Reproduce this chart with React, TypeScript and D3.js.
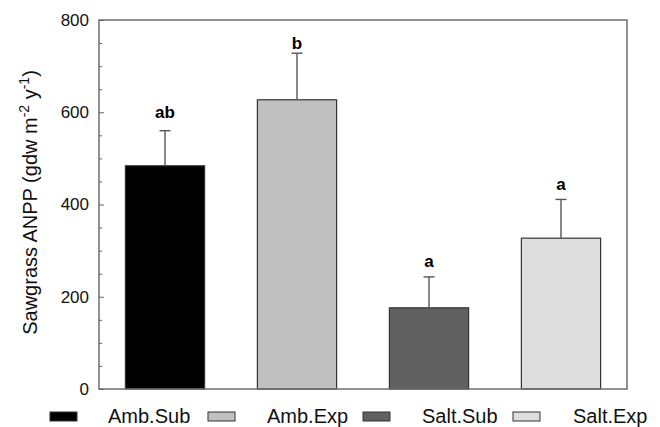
import * as d3 from "d3";
import { useEffect, useRef } from "react";

const treatments = ["Amb.Sub", "Amb.Exp", "Salt.Sub", "Salt.Exp"];
const anpp = [484, 627, 176, 327];
const errUpper = [560, 728, 243, 411];
const letters = ["ab", "b", "a", "a"];
const letterAt = [588, 737, 265, 431];
const fills = ["#000000", "#c0c0c0", "#606060", "#dedede"];
const yTicks = [0, 200, 400, 600, 800];

const App = () => {
  const chartRef = useRef<SVGSVGElement | null>(null);

  useEffect(() => {
    drawChart();
  }, []);

  const drawChart = () => {
    if (!chartRef.current) return;
    d3.select(chartRef.current).selectAll("*").remove();

    const frame = { left: 99, right: 627, top: 20, bottom: 389 };
    const svg = d3.select(chartRef.current);
    const font = "'Liberation Sans', Arial, sans-serif";

    const xScale = d3
      .scaleBand()
      .domain(treatments)
      .range([frame.left, frame.right])
      .paddingInner(0.4)
      .paddingOuter(0.2);

    const yScale = d3.scaleLinear().domain([0, 800]).range([frame.bottom, frame.top]);

    // bars
    svg
      .append("g")
      .selectAll()
      .data(treatments)
      .join("rect")
      .attr("x", (d) => xScale(d)!)
      .attr("y", (d, i) => yScale(anpp[i]))
      .attr("width", xScale.bandwidth())
      .attr("height", (d, i) => yScale(0) - yScale(anpp[i]))
      .attr("fill", (d, i) => fills[i])
      .attr("stroke", "#333")
      .attr("stroke-width", 1.2);

    // error bars (upper only)
    const eb = svg.append("g").attr("stroke", "#555").attr("stroke-width", 1.4);
    treatments.forEach((t, i) => {
      const cx = xScale(t)! + xScale.bandwidth() / 2;
      eb.append("line").attr("x1", cx).attr("x2", cx).attr("y1", yScale(anpp[i])).attr("y2", yScale(errUpper[i]));
      eb.append("line")
        .attr("x1", cx - 5.5)
        .attr("x2", cx + 5.5)
        .attr("y1", yScale(errUpper[i]))
        .attr("y2", yScale(errUpper[i]));
    });

    // significance letters
    svg
      .append("g")
      .selectAll("text")
      .data(treatments)
      .join("text")
      .attr("x", (d) => xScale(d)! + xScale.bandwidth() / 2)
      .attr("y", (d, i) => yScale(letterAt[i]))
      .attr("text-anchor", "middle")
      .style("font-family", font)
      .style("font-size", "17px")
      .style("font-weight", "bold")
      .text((d, i) => letters[i]);

    // frame
    svg
      .append("rect")
      .attr("x", frame.left)
      .attr("y", frame.top)
      .attr("width", frame.right - frame.left)
      .attr("height", frame.bottom - frame.top)
      .attr("fill", "none")
      .attr("stroke", "#6f6f6f")
      .attr("stroke-width", 1.5);

    // Y axis, ticks inward (major 200, minor 50)
    const minor = d3.range(0, 801, 50).filter((v) => v % 200 !== 0);
    const yMinor = svg
      .append("g")
      .attr("transform", `translate(${frame.left},0)`)
      .call(d3.axisRight(yScale).tickValues(minor).tickSize(3).tickFormat(() => ""));
    yMinor.select(".domain").remove();
    yMinor.selectAll(".tick line").attr("stroke", "#666");

    const yMajor = svg
      .append("g")
      .attr("transform", `translate(${frame.left},0)`)
      .call(d3.axisRight(yScale).tickValues(yTicks).tickSize(5).tickFormat(() => ""));
    yMajor.select(".domain").remove();
    yMajor.selectAll(".tick line").attr("stroke", "#666");

    svg
      .append("g")
      .selectAll("text")
      .data(yTicks)
      .join("text")
      .attr("x", frame.left - 10)
      .attr("y", (d) => yScale(d))
      .attr("dy", "0.35em")
      .attr("text-anchor", "end")
      .style("font-family", font)
      .style("font-size", "17px")
      .style("fill", "#111")
      .text((d) => d);

    // Y title
    const title = svg
      .append("text")
      .attr("transform", `translate(37,${(62 + 343) / 2}) rotate(-90)`)
      .attr("text-anchor", "middle")
      .style("font-family", font)
      .style("font-size", "20px")
      .style("fill", "#111");
    title.append("tspan").text("Sawgrass ANPP (gdw m");
    title.append("tspan").attr("dy", -8).style("font-size", "14px").text("-2");
    title.append("tspan").attr("dy", 8).text(" y");
    title.append("tspan").attr("dy", -8).style("font-size", "14px").text("-1");
    title.append("tspan").attr("dy", 8).text(")");

    // legend
    const swatchX = [50, 208, 363, 513];
    const textX = [108, 267, 422, 573];
    const legend = svg.append("g");
    treatments.forEach((t, i) => {
      legend
        .append("rect")
        .attr("x", swatchX[i])
        .attr("y", 412)
        .attr("width", 27)
        .attr("height", 9)
        .attr("fill", fills[i])
        .attr("stroke", "#333")
        .attr("stroke-width", 1);
      legend
        .append("text")
        .attr("x", textX[i])
        .attr("y", 423)
        .style("font-family", font)
        .style("font-size", "20px")
        .style("fill", "#111")
        .text(t);
    });
  };

  return (
    <div style={{ position: "absolute", left: 0, top: 0 }}>
      <svg ref={chartRef} width={660} height={427} style={{ display: "block", background: "#fff" }} />
    </div>
  );
};

export default App;
